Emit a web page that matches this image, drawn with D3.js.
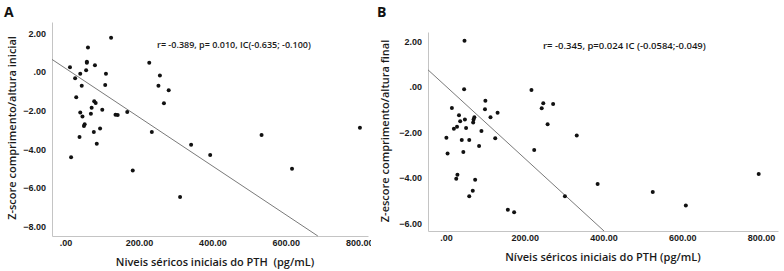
<!DOCTYPE html>
<html>
<head>
<meta charset="utf-8">
<script src="https://cdn.jsdelivr.net/npm/d3@7"></script>
<style>
  body { margin: 0; background: #fff; }
  svg { display: block; font-family: "Open Sans", sans-serif; }
  text { white-space: pre; }
  .tick text { font-size: 9px; font-weight: 600; fill: #1a1a1a; }
  .domain { stroke: #c4c4c4; }
</style>
</head>
<body>
<svg id="chart" width="784" height="271"></svg>
<script>
// PTH (pg/mL) and Z-score values
const pthA = [124, 61, 58, 58, 56, 80, 12, 40, 26, 110, 108, 44, 29, 78, 82, 71, 100, 40, 46, 69,
	136, 142, 168, 52, 50, 94, 77, 38, 85, 15, 183, 228, 257, 253, 281, 268, 235, 342, 394, 534, 617, 802, 312];
const zA = [1.76, 1.26, 0.53, 0.47, 0.09, 0.35, 0.24, -0.09, -0.33, -0.10, -0.67, -0.72, -1.31, -1.51, -1.60, -1.85, -1.95, -2.10, -2.31, -2.16,
	-2.21, -2.22, -2.07, -2.70, -2.79, -2.93, -3.10, -3.36, -3.71, -4.41, -5.10, 0.47, -0.19, -0.71, -0.95, -1.62, -3.10, -3.77, -4.29, -3.26, -5.00, -2.89, -6.46];

const pthB = [47, 46, 15, 100, 99, 131, 33, 48, 36, 72, 70, 69, 113, 28, 20, 51, 90, 1, 40, 59, 125, 84,
	4, 44, 29, 26, 74, 68, 59, 157, 173, 217, 247, 243, 272, 258, 224, 302, 332, 385, 525, 609, 794];
const zB = [2.02, -0.11, -0.93, -0.61, -0.99, -1.14, -1.25, -1.43, -1.51, -1.34, -1.43, -1.57, -1.34, -1.75, -1.84, -1.81, -1.94, -2.23, -2.33, -2.33, -2.26, -2.60,
	-2.92, -2.86, -3.86, -4.03, -4.07, -4.56, -4.80, -5.39, -5.50, -0.14, -0.72, -0.94, -0.75, -1.64, -2.77, -4.80, -2.14, -4.26, -4.61, -5.20, -3.82];

// fitted line: [intercept, slope]
const fitA = [0.18, -0.0126];
const fitB = [0.02, -0.0158];

const xTicks = [0, 200, 400, 600, 800];
const yTicksA = [2, 0, -2, -4, -6, -8];
const yTicksB = [2, 0, -2, -4, -6];

const xTitleA = "Niveis séricos iniciais do PTH  (pg/mL)";
const xTitleB = "Níveis séricos iniciais do PTH (pg/mL)";

const fmt = (v) => d3.format(".2f")(v).replace(/^0\./, ".");

const $svg = d3.select("#chart");

const drawPanel = function(cfg) {
	const scale = {
		x: d3.scaleLinear().domain(cfg.xDomain).range(cfg.xRange),
		y: d3.scaleLinear().domain(cfg.yDomain).range(cfg.yRange)
	};

	const $g = $svg.append("g").attr("clip-path", `url(#${cfg.id}-clip)`);
	$svg.append("clipPath").attr("id", `${cfg.id}-clip`)
		.append("rect").attr("x", cfg.clip[0]).attr("y", 0)
		.attr("width", cfg.clip[1] - cfg.clip[0]).attr("height", 271);

	// axes
	$g.append("g")
		.attr("transform", `translate(0,${cfg.yRange[0]})`)
		.call(d3.axisBottom(scale.x).tickValues(xTicks).tickFormat(fmt).tickSize(0).tickPadding(4));
	$g.append("g")
		.attr("transform", `translate(${cfg.xRange[0]},0)`)
		.call(d3.axisLeft(scale.y).tickValues(cfg.yTicks).tickFormat(fmt).tickSize(0).tickPadding(6));

	// regression line, clipped to the plot area
	const x0 = cfg.xDomain[0];
	const yMin = cfg.yDomain[0];
	const x1 = Math.min((yMin - cfg.fit[0]) / cfg.fit[1], cfg.xDomain[1]);
	$g.append("line")
		.attr("x1", scale.x(x0)).attr("y1", scale.y(cfg.fit[0] + cfg.fit[1] * x0))
		.attr("x2", scale.x(x1)).attr("y2", scale.y(cfg.fit[0] + cfg.fit[1] * x1))
		.attr("stroke", "#7a7a7a").attr("stroke-width", 1);

	// points
	$g.selectAll(".pt")
		.data(cfg.xs.map((x, i) => ({ x: x, y: cfg.ys[i] })))
		.enter().append("circle")
		.attr("class", "pt")
		.attr("cx", (d) => scale.x(d.x))
		.attr("cy", (d) => scale.y(d.y))
		.attr("r", 2)
		.attr("fill", "#111");

	// texts
	$g.append("text")
		.attr("x", cfg.note[0]).attr("y", cfg.note[1])
		.attr("font-size", cfg.noteSize).attr("font-weight", 600).attr("fill", "#1a1a1a")
		.text(cfg.noteText);
	$g.append("text")
		.attr("x", (cfg.xRange[0] + cfg.xRange[1]) / 2 + cfg.titleShift).attr("y", cfg.titleY)
		.attr("text-anchor", "middle")
		.attr("font-size", 11).attr("font-weight", 600).attr("fill", "#1a1a1a")
		.text(cfg.title);
	$g.append("text")
		.attr("transform", `translate(${cfg.yTitleX},${cfg.yTitleY}) rotate(-90)`)
		.attr("text-anchor", "middle")
		.attr("font-size", 11).attr("font-weight", 600).attr("fill", "#1a1a1a")
		.text(cfg.yTitle);
	$g.append("text")
		.attr("x", cfg.letter[0]).attr("y", cfg.letter[1])
		.attr("font-size", 14).attr("font-weight", 700).attr("fill", "#111")
		.text(cfg.id);
};

drawPanel({
	id: "A",
	xs: pthA, ys: zA, fit: fitA,
	xDomain: [-37, 824], xRange: [52, 368],
	yDomain: [-8.48, 2.58], yRange: [236, 22],
	yTicks: yTicksA,
	clip: [0, 371],
	note: [157, 48], noteSize: 9, noteText: "r= -0.389, p= 0.010, IC(-0.635; -0.100)",
	title: xTitleA, titleY: 266, titleShift: 5,
	yTitle: "Z-score comprimento/altura inicial", yTitleX: 16, yTitleY: 128,
	letter: [4, 17]
});

drawPanel({
	id: "B",
	xs: pthB, ys: zB, fit: fitB,
	xDomain: [-45.7, 843], xRange: [428, 778],
	yDomain: [-6.32, 2.4], yRange: [231, 32],
	yTicks: yTicksB,
	clip: [373, 784],
	note: [543, 49], noteSize: 9.5, noteText: "r= -0.345, p=0.024 IC (-0.0584;-0.049)",
	title: xTitleB, titleY: 261, titleShift: 0,
	yTitle: "Z-escore comprimento/altura final", yTitleX: 389, yTitleY: 131,
	letter: [377, 17]
});
</script>
</body>
</html>
